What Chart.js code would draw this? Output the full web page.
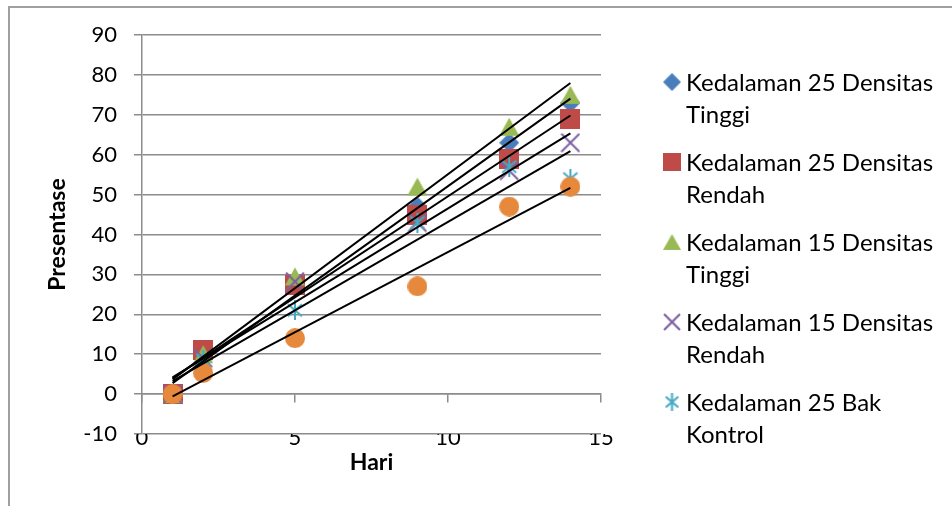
<!DOCTYPE html>
<html>
<head>
<meta charset="utf-8">
<script src="https://cdn.jsdelivr.net/npm/chart.js@4/dist/chart.umd.min.js"></script>
<style>
html,body{margin:0;padding:0;background:#fff;}
#wrap{position:relative;width:952px;height:506px;overflow:hidden;background:#fff;}
#frame{position:absolute;left:8px;top:6px;width:1200px;height:800px;border:2px solid #a0a0a0;box-sizing:border-box;}
#c{position:absolute;left:0;top:0;}
#legend{position:absolute;left:0;top:0;width:952px;height:506px;font-family:Lato,"Noto Sans",sans-serif;font-size:24px;color:#000;pointer-events:none;}
.mk{position:absolute;width:18px;height:18px;}
.tx{position:absolute;line-height:32px;white-space:nowrap;}
</style>
</head>
<body>
<div id="wrap">
  <div id="frame"></div>
  <canvas id="c" width="952" height="506"></canvas>
  <div id="legend"></div>
</div>
<script>
// ---- data ----
const hari = [1, 2, 5, 9, 12, 14];
const k25Tinggi  = [0, 9, 27.5, 47, 63, 73];
const k25Rendah  = [0, 11, 27.4, 45, 59, 69];
const k15Tinggi  = [0, 10, 29.5, 52, 67, 75];
const k15Rendah  = [0, 9, 28.2, 43, 56, 63];
const k25Kontrol = [0, 8.6, 21, 43, 57, 54];
const seri6      = [0, 5.3, 14, 27, 47, 52];
const seriesNames = [
  ['Kedalaman 25 Densitas', 'Tinggi'],
  ['Kedalaman 25 Densitas', 'Rendah'],
  ['Kedalaman 15 Densitas', 'Tinggi'],
  ['Kedalaman 15 Densitas', 'Rendah'],
  ['Kedalaman 25 Bak', 'Kontrol']
];
const xTickStep = 5, xMin = 0, xMax = 15;
const yTickStep = 10, yMin = -10, yMax = 90;
const xTitle = 'Hari';
const yTitle = 'Presentase';

// ---- styling ----
const COLORS = ['#4A7EBB', '#BE4B48', '#98B954', '#7D60A0', '#46AAC5', '#E6893D'];
const GRID = '#8c8c8c';
const FONT = 'Lato';

function marker(kind, color, s) {
  const cv = document.createElement('canvas');
  cv.width = s; cv.height = s;
  const g = cv.getContext('2d');
  g.fillStyle = color; g.strokeStyle = color;
  if (kind === 'diamond') {
    g.beginPath(); g.moveTo(s/2, 0); g.lineTo(s, s/2); g.lineTo(s/2, s); g.lineTo(0, s/2); g.closePath(); g.fill();
  } else if (kind === 'square') {
    g.fillRect(0, 0, s, s);
  } else if (kind === 'triangle') {
    g.beginPath(); g.moveTo(s/2, 1); g.lineTo(s, s-1); g.lineTo(0, s-1); g.closePath(); g.fill();
  } else if (kind === 'x') {
    g.lineWidth = 2;
    g.beginPath(); g.moveTo(1, 1); g.lineTo(s-1, s-1); g.moveTo(s-1, 1); g.lineTo(1, s-1); g.stroke();
  } else if (kind === 'star') {
    g.lineWidth = 2;
    g.beginPath();
    g.moveTo(s/2, 0); g.lineTo(s/2, s);
    g.moveTo(s*0.15, s*0.2); g.lineTo(s*0.85, s*0.8);
    g.moveTo(s*0.85, s*0.2); g.lineTo(s*0.15, s*0.8);
    g.stroke();
  } else if (kind === 'circle') {
    g.beginPath(); g.arc(s/2, s/2, s/2, 0, Math.PI*2); g.fill();
  }
  return cv;
}
const KINDS = ['diamond', 'square', 'triangle', 'x', 'star', 'circle'];
const allSeries = [k25Tinggi, k25Rendah, k15Tinggi, k15Rendah, k25Kontrol, seri6];

function pts(ys) { return hari.map((x, i) => ({x: x, y: ys[i]})); }
function trend(ys) {
  const n = hari.length;
  const mx = hari.reduce((a, b) => a + b, 0) / n;
  const my = ys.reduce((a, b) => a + b, 0) / n;
  let sxy = 0, sxx = 0;
  for (let i = 0; i < n; i++) { sxy += (hari[i]-mx)*(ys[i]-my); sxx += (hari[i]-mx)*(hari[i]-mx); }
  const b = sxy / sxx, a = my - b * mx;
  const x0 = Math.min(...hari), x1 = Math.max(...hari);
  return [{x: x0, y: a + b*x0}, {x: x1, y: a + b*x1}];
}

const datasets = [];
allSeries.forEach((ys, i) => {
  datasets.push({
    type: 'scatter',
    label: i < seriesNames.length ? seriesNames[i].join(' ') : 'Seri 6',
    data: pts(ys),
    xAxisID: 'x', yAxisID: 'y',
    pointStyle: marker(KINDS[i], COLORS[i], 20),
    pointRadius: 10,
    pointBorderWidth: 0,
    backgroundColor: COLORS[i],
    borderColor: COLORS[i],
    order: 6 - i + 1
  });
});
allSeries.forEach((ys, i) => {
  datasets.push({
    type: 'line',
    label: 'Linear',
    data: trend(ys),
    xAxisID: 'x', yAxisID: 'y',
    borderColor: '#000',
    borderWidth: 2,
    pointRadius: 0,
    fill: false,
    order: 0
  });
});

new Chart(document.getElementById('c'), {
  type: 'scatter',
  data: { datasets: datasets },
  options: {
    responsive: false,
    animation: false,
    events: [],
    layout: { padding: { top: 35, right: 351, bottom: 0, left: 0 } },
    plugins: { legend: { display: false }, tooltip: { enabled: false } },
    scales: {
      x: {
        type: 'linear', position: 'bottom', min: xMin, max: xMax,
        ticks: { stepSize: xTickStep, padding: -17, color: '#000', font: { family: FONT, size: 22 } },
        grid: { display: false },
        border: { display: false },
        title: { display: true, text: xTitle, color: '#000', font: { family: FONT, size: 23, weight: 'bold' }, padding: { top: 0, bottom: 30 } },
        afterFit: (s) => { s.height = 72; }
      },
      x2: {
        type: 'linear', axis: 'x', position: { y: 0 }, min: xMin, max: xMax,
        ticks: { display: false, stepSize: xTickStep },
        grid: { drawOnChartArea: false, drawTicks: true, tickLength: 8, color: GRID, lineWidth: 1.5 },
        border: { display: true, color: GRID, width: 1.5 },
        afterFit: (s) => { s.height = 0; }
      },
      y: {
        type: 'linear', position: 'left', min: yMin, max: yMax,
        ticks: { stepSize: yTickStep, padding: 17, color: '#000', font: { family: FONT, size: 22 } },
        grid: { color: GRID, lineWidth: 1.5, tickLength: 8 },
        border: { display: true, color: GRID, width: 1.5 },
        title: { display: true, text: yTitle, color: '#000', font: { family: FONT, size: 23, weight: 'bold' }, padding: { top: 44, bottom: 0 } },
        afterFit: (s) => { s.width = 142; }
      }
    }
  }
});

// ---- HTML legend (5 entries, as in reference) ----
const leg = document.getElementById('legend');
seriesNames.forEach((lines, i) => {
  const cy = 81.7 + 80 * i;
  const m = marker(KINDS[i], COLORS[i], 17);
  m.className = 'mk';
  m.style.left = (671.7 - 8.5) + 'px';
  m.style.top = (cy - 8.5) + 'px';
  leg.appendChild(m);
  const t = document.createElement('div');
  t.className = 'tx';
  t.style.left = '686px';
  t.style.top = (cy - 16) + 'px';
  t.innerHTML = lines.join('<br>');
  leg.appendChild(t);
});
</script>
</body>
</html>
